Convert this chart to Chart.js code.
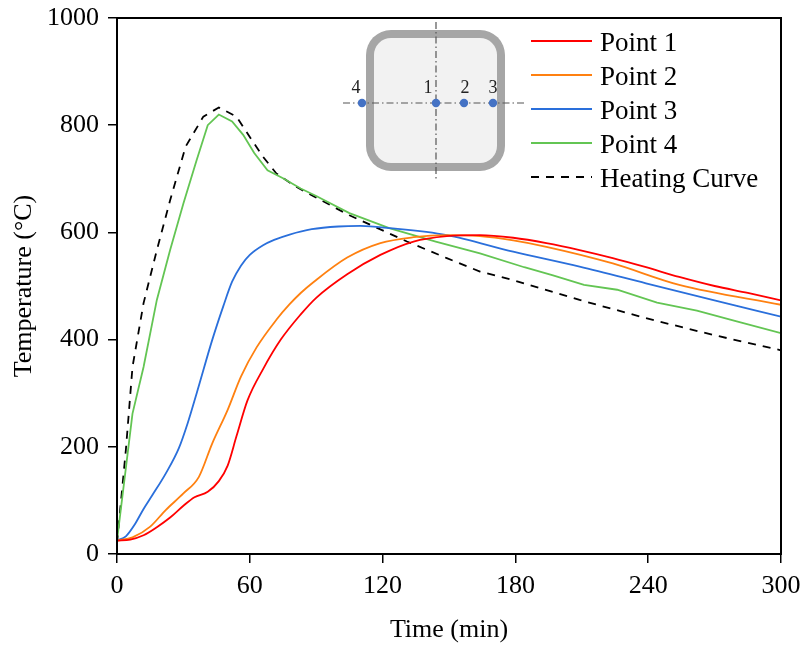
<!DOCTYPE html>
<html lang="en">
<head>
    <meta charset="UTF-8">
    <title>Temperature vs Time</title>
    <script src="https://cdn.jsdelivr.net/npm/chart.js"></script>
    <style>
        body {
            margin: 0;
            padding: 0;
            background: #ffffff;
        }

        .chart-container {
            position: relative;
            width: 806px;
            height: 650px;
        }
    </style>
</head>
<body>
    <div class="chart-container">
        <canvas id="tempChart"></canvas>
    </div>

    <script>
        // Data (time in min, temperature in °C)
        const p1Time = [0, 6, 12, 18, 24, 30, 35, 41, 46, 50, 54, 59, 66, 74, 83, 90, 104, 119, 134, 149, 164, 179, 194, 209, 224, 239, 254, 270, 285, 300];
        const p1Temp = [25, 27, 35, 50, 68, 90, 106, 116, 136, 165, 220, 287, 345, 400, 447, 478, 522, 558, 583, 593, 595, 590, 580, 567, 552, 535, 517, 500, 487, 473];

        const p2Time = [0, 7, 15, 22, 30, 37, 43, 50, 56, 63, 72, 78, 83, 89, 104, 119, 134, 149, 164, 179, 194, 224, 254, 300];
        const p2Temp = [25, 31, 51, 82, 113, 144, 206, 269, 331, 385, 437, 466, 487, 508, 553, 580, 591, 595, 593, 585, 573, 542, 502, 465];

        const p3Time = [0, 4, 8, 12, 16, 22, 28, 32, 36, 43, 48, 52, 56, 60, 66, 71, 78, 88, 100, 110, 123, 149, 179, 209, 239, 269, 300];
        const p3Temp = [25, 33, 55, 84, 110, 150, 198, 245, 300, 399, 462, 508, 538, 558, 576, 586, 596, 606, 611, 612, 608, 595, 564, 536, 505, 474, 443];

        const p4Time = [0, 7, 12, 18, 24, 30, 36, 41, 46, 52, 57, 62, 68, 75, 83, 90, 105, 123, 144, 164, 184, 197, 211, 226, 244, 262, 280, 300];
        const p4Temp = [25, 262, 349, 474, 567, 654, 735, 800, 820, 807, 782, 748, 716, 701, 682, 668, 636, 608, 583, 561, 535, 520, 502, 493, 469, 454, 434, 412];

        const heatTime = [0, 4, 7, 12, 18, 24, 31, 39, 46, 54, 60, 66, 72, 81, 89, 105, 131, 149, 164, 179, 209, 239, 269, 300];
        const heatTemp = [20, 194, 349, 468, 567, 660, 760, 816, 833, 816, 778, 741, 710, 685, 667, 632, 583, 552, 527, 511, 474, 440, 409, 380];

        const seriesNames = ['Point 1', 'Point 2', 'Point 3', 'Point 4', 'Heating Curve'];
        const xTicks = [0, 60, 120, 180, 240, 300];
        const yTicks = [0, 200, 400, 600, 800, 1000];

        const FONT = "'Liberation Serif', 'Times New Roman', serif";

        function toPoints(times, temps) {
            return times.map((t, i) => ({ x: t, y: temps[i] }));
        }

        // Frame, inset cross-section and legend
        const decorPlugin = {
            id: 'decor',
            afterDraw(chart) {
                const ctx = chart.ctx;
                const a = chart.chartArea;
                ctx.save();

                // box around plot area
                ctx.strokeStyle = '#000';
                ctx.lineWidth = 2;
                ctx.strokeRect(a.left, a.top, a.right - a.left, a.bottom - a.top);

                // inset: square tube cross-section
                const bx = a.left + 249, by = a.top + 12, bw = 139, bh = 141;
                ctx.beginPath();
                ctx.roundRect(bx, by, bw, bh, 25);
                ctx.fillStyle = '#a6a6a6';
                ctx.fill();
                ctx.beginPath();
                ctx.roundRect(bx + 8, by + 8, bw - 16, bh - 16, 17);
                ctx.fillStyle = '#f2f2f2';
                ctx.fill();

                const cx = a.left + 319, cy = a.top + 85;
                ctx.strokeStyle = '#555';
                ctx.lineWidth = 1.2;
                ctx.setLineDash([7, 3, 1.5, 3]);
                ctx.beginPath();
                ctx.moveTo(cx, a.top + 4);
                ctx.lineTo(cx, a.top + 161);
                ctx.moveTo(a.left + 226, cy);
                ctx.lineTo(a.left + 410, cy);
                ctx.stroke();
                ctx.setLineDash([]);

                const dots = [
                    { label: '4', x: a.left + 245, lx: a.left + 239 },
                    { label: '1', x: cx, lx: cx - 8 },
                    { label: '2', x: a.left + 347, lx: a.left + 348 },
                    { label: '3', x: a.left + 376, lx: a.left + 376 }
                ];
                ctx.font = '18px ' + FONT;
                ctx.textAlign = 'center';
                ctx.textBaseline = 'alphabetic';
                dots.forEach(d => {
                    ctx.beginPath();
                    ctx.arc(d.x, cy, 4.2, 0, Math.PI * 2);
                    ctx.fillStyle = '#4472c4';
                    ctx.fill();
                    ctx.fillStyle = '#222';
                    ctx.fillText(d.label, d.lx, cy - 10);
                });

                // legend
                ctx.font = '27px ' + FONT;
                ctx.textAlign = 'left';
                chart.data.datasets.forEach((ds, i) => {
                    const y = a.top + 23 + i * 34;
                    ctx.strokeStyle = ds.borderColor;
                    ctx.lineWidth = 2;
                    ctx.setLineDash(ds.borderDash || []);
                    ctx.beginPath();
                    ctx.moveTo(a.left + 414, y);
                    ctx.lineTo(a.left + 475, y);
                    ctx.stroke();
                    ctx.setLineDash([]);
                    ctx.fillStyle = '#000';
                    ctx.fillText(ds.label, a.left + 483, y + 10);
                });

                ctx.restore();
            }
        };

        const ctx = document.getElementById('tempChart').getContext('2d');
        const chart = new Chart(ctx, {
            type: 'line',
            data: {
                datasets: [
                    {
                        label: seriesNames[0],
                        data: toPoints(p1Time, p1Temp),
                        borderColor: '#ff0000',
                        cubicInterpolationMode: 'monotone'
                    },
                    {
                        label: seriesNames[1],
                        data: toPoints(p2Time, p2Temp),
                        borderColor: '#ff8010',
                        cubicInterpolationMode: 'monotone'
                    },
                    {
                        label: seriesNames[2],
                        data: toPoints(p3Time, p3Temp),
                        borderColor: '#2a6fdb',
                        cubicInterpolationMode: 'monotone'
                    },
                    {
                        label: seriesNames[3],
                        data: toPoints(p4Time, p4Temp),
                        borderColor: '#63c553'
                    },
                    {
                        label: seriesNames[4],
                        data: toPoints(heatTime, heatTemp),
                        borderColor: '#000000',
                        borderDash: [8, 7]
                    }
                ]
            },
            options: {
                responsive: true,
                maintainAspectRatio: false,
                animation: false,
                layout: {
                    padding: { top: 18, right: 25, left: 0, bottom: 0 }
                },
                elements: {
                    point: { radius: 0 },
                    line: { borderWidth: 1.8, fill: false }
                },
                scales: {
                    x: {
                        type: 'linear',
                        min: 0,
                        max: 300,
                        afterBuildTicks: s => { s.ticks = xTicks.map(v => ({ value: v })); },
                        afterFit: s => { s.height = 96; s.paddingLeft = 0; s.paddingRight = 0; },
                        border: { display: true, color: '#000', width: 2 },
                        grid: { drawOnChartArea: false, drawTicks: true, tickLength: 9, color: '#000', lineWidth: 1.5 },
                        ticks: { color: '#000', font: { family: FONT, size: 26 }, padding: 8, maxRotation: 0,
                                 callback: v => String(v) },
                        title: {
                            display: true,
                            text: 'Time (min)',
                            color: '#000',
                            font: { family: FONT, size: 26 },
                            padding: { top: 0, bottom: 4 }
                        }
                    },
                    y: {
                        min: 0,
                        max: 1000,
                        afterBuildTicks: s => { s.ticks = yTicks.map(v => ({ value: v })); },
                        afterFit: s => { s.width = 117; s.paddingTop = 0; s.paddingBottom = 0; },
                        border: { display: true, color: '#000', width: 2 },
                        grid: { drawOnChartArea: false, drawTicks: true, tickLength: 9, color: '#000', lineWidth: 1.5 },
                        ticks: { color: '#000', font: { family: FONT, size: 26 }, padding: 9,
                                 callback: v => String(v) },
                        title: {
                            display: true,
                            text: 'Temperature (°C)',
                            color: '#000',
                            font: { family: FONT, size: 26 },
                            padding: { top: 9, bottom: 0 }
                        }
                    }
                },
                plugins: {
                    legend: { display: false },
                    tooltip: { enabled: false }
                }
            },
            plugins: [decorPlugin]
        });
    </script>
</body>
</html>
